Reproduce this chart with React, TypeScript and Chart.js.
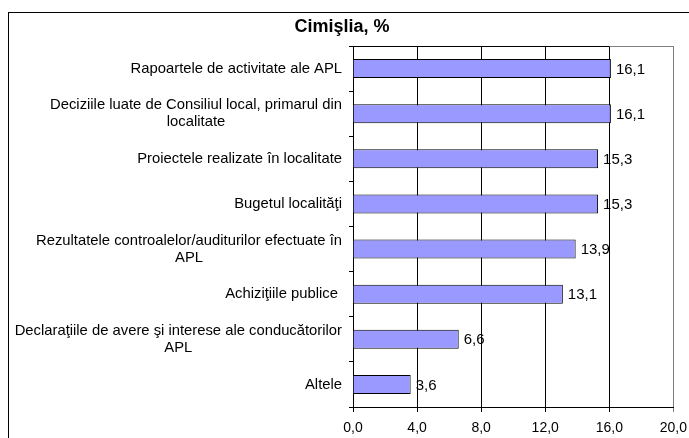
import React, { useEffect, useRef } from "react";
import { Chart, registerables } from "chart.js";

Chart.register(...registerables);

const FONT = "'Liberation Sans', Arial, sans-serif";

const chartTitle = "Cimişlia, %";
const categories: string[][] = [
  ["Rapoartele de activitate ale APL"],
  ["Deciziile luate de Consiliul local, primarul din", "localitate"],
  ["Proiectele realizate în localitate"],
  ["Bugetul localităţi"],
  ["Rezultatele controalelor/auditurilor efectuate în", "APL"],
  ["Achiziţiile publice "],
  ["Declaraţiile de avere şi interese ale conducătorilor", "APL"],
  ["Altele"],
];
const values = [16.1, 16.1, 15.3, 15.3, 13.9, 13.1, 6.6, 3.6];
const xMin = 0;
const xMax = 20;
const xStep = 4;

const fmt = (v: number) => v.toFixed(1).replace(".", ",");

const CANVAS_W = 686;
const CANVAS_H = 440;

const customPlugin = {
  id: "customDraw",
  beforeDatasetsDraw(chart: any) {
    const ctx = chart.ctx;
    const area = chart.chartArea;
    const xs = chart.scales.x;
    const x16 = Math.round(xs.getPixelForValue(16)) + 0.5;
    const top = Math.round(area.top) + 0.5;
    ctx.save();
    ctx.lineWidth = 1;
    ctx.strokeStyle = "#000000";
    ctx.beginPath();
    ctx.moveTo(Math.round(area.left), top);
    ctx.lineTo(x16, top);
    ctx.stroke();
    ctx.strokeStyle = "#808080";
    ctx.beginPath();
    ctx.moveTo(x16, top);
    ctx.lineTo(Math.round(area.right) + 0.5, top);
    ctx.stroke();
    ctx.restore();
  },
  afterDraw(chart: any) {
    const ctx = chart.ctx;
    const meta = chart.getDatasetMeta(0);
    ctx.save();
    ctx.fillStyle = "#000000";
    ctx.textBaseline = "middle";
    ctx.font = `15px ${FONT}`;
    ctx.textAlign = "left";
    meta.data.forEach((el: any, i: number) => {
      ctx.fillText(fmt(values[i]), el.x + 5, el.y + 1);
    });
    ctx.font = `14.8px ${FONT}`;
    const ys = chart.scales.y;
    const right = chart.chartArea.left - 11;
    categories.forEach((lines, i) => {
      const cy = ys.getPixelForValue(i);
      const widths = lines.map((l) => ctx.measureText(l).width);
      const maxW = Math.max(...widths);
      const n = lines.length;
      lines.forEach((l, j) => {
        const y = cy + (j - (n - 1) / 2) * 17;
        if (n === 1) {
          ctx.textAlign = "right";
          ctx.fillText(l, right, y);
        } else {
          ctx.textAlign = "center";
          ctx.fillText(l, right - maxW / 2, y);
        }
      });
    });
    ctx.restore();
  },
};

export default function App() {
  const ref = useRef<HTMLCanvasElement | null>(null);

  useEffect(() => {
    if (!ref.current) return;
    Chart.defaults.font.family = FONT;
    const chart = new Chart(ref.current, {
      type: "bar",
      data: {
        labels: categories,
        datasets: [
          {
            data: values,
            backgroundColor: "#9999FF",
            borderColor: "#000000",
            borderWidth: 1,
            barPercentage: 0.42,
            categoryPercentage: 1,
          },
        ],
      },
      options: {
        indexAxis: "y",
        responsive: false,
        animation: false,
        devicePixelRatio: 1,
        layout: { padding: { left: 0, right: 20, top: 0, bottom: 16 } },
        plugins: {
          legend: { display: false },
          tooltip: { enabled: false },
          title: {
            display: true,
            text: chartTitle,
            color: "#000000",
            font: { size: 18, weight: "bold", family: FONT },
            padding: { top: 3, bottom: 8.4 },
          },
        },
        scales: {
          x: {
            type: "linear",
            min: xMin,
            max: xMax,
            ticks: {
              stepSize: xStep,
              color: "#000000",
              font: { size: 14, family: FONT },
              padding: 8,
              callback: (v: any) => fmt(Number(v)),
            },
            grid: {
              display: true,
              drawOnChartArea: true,
              tickLength: 5,
              lineWidth: 1,
              color: (c: any) => (c.tick && c.tick.value === 20 ? "#808080" : "#000000"),
            },
            border: { display: true, color: "#000000", width: 1 },
            afterFit: (s: any) => {
              s.height = 30;
            },
          },
          y: {
            type: "category",
            ticks: { display: false },
            grid: {
              display: true,
              drawOnChartArea: false,
              offset: true,
              tickLength: 4,
              color: "#000000",
              lineWidth: 1,
            },
            border: { display: true, color: "#000000", width: 1 },
            afterFit: (s: any) => {
              s.width = 344;
            },
          },
        },
      },
      plugins: [customPlugin],
    });
    return () => chart.destroy();
  }, []);

  return (
    <div
      style={{
        position: "absolute",
        left: 0,
        top: 0,
        width: 689,
        height: 438,
        overflow: "hidden",
        background: "#ffffff",
      }}
    >
      <div
        style={{
          position: "absolute",
          left: 8,
          top: 12,
          width: CANVAS_W,
          height: CANVAS_H,
          border: "1px solid #000000",
        }}
      >
        <canvas
          ref={ref}
          width={CANVAS_W}
          height={CANVAS_H}
          style={{ display: "block", width: CANVAS_W, height: CANVAS_H }}
        />
      </div>
    </div>
  );
}
